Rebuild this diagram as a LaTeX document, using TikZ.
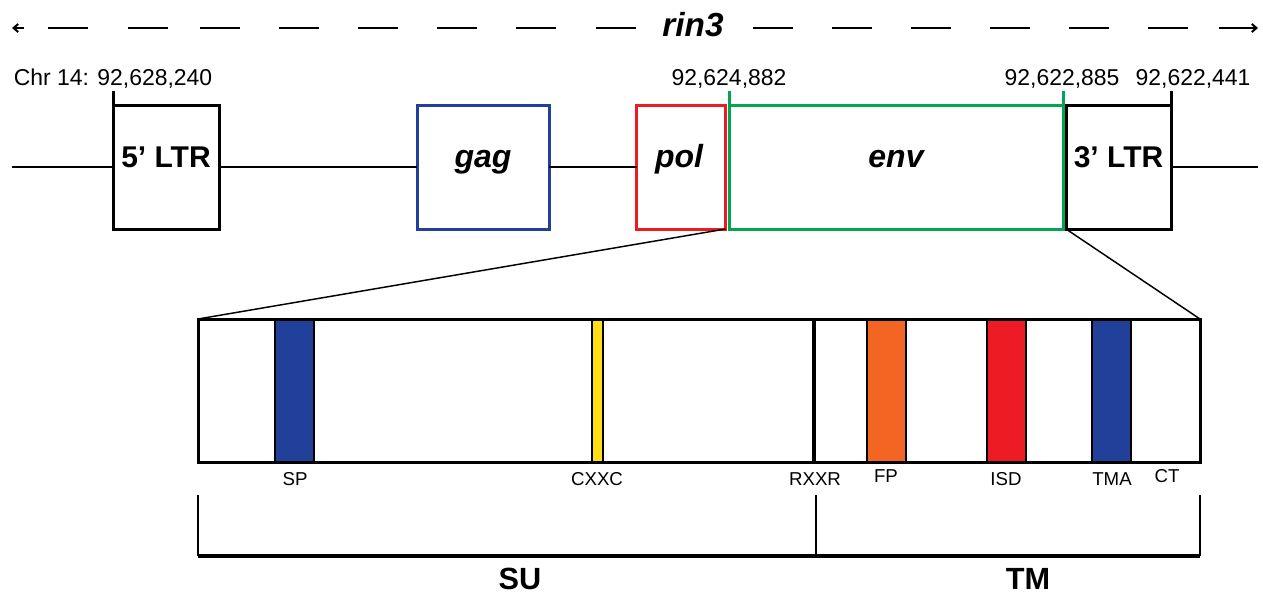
\documentclass[tikz,border=0pt]{standalone}
\usepackage{fontspec}
\setmainfont{Liberation Sans}
\usetikzlibrary{arrows.meta}
\definecolor{gblue}{HTML}{21409A}
\definecolor{gred}{HTML}{ED1C24}
\definecolor{ggreen}{HTML}{00A651}
\definecolor{gorange}{HTML}{F26522}
\definecolor{gyellow}{HTML}{FFDE17}
\tikzset{
  genebox/.style={draw, line width=2.25pt, fill=white, inner sep=0pt, outer sep=0pt, minimum height={124*0.75pt}, minimum width={#1*0.75pt}},
  boxlabel/.style={anchor=base, inner sep=0pt, font=\fontsize{22.5}{24}\selectfont\bfseries},
  itlabel/.style={anchor=base, inner sep=0pt, font=\fontsize{24}{26}\selectfont\bfseries\itshape},
  coordlabel/.style={anchor=base, inner sep=0pt, font=\fontsize{17.2}{19}\selectfont},
  domlabel/.style={anchor=base, inner sep=0pt, font=\fontsize{14}{16}\selectfont},
  domainbar/.style={draw=black, line width=0.8pt, inner sep=0pt, outer sep=0pt, minimum height={143*0.75pt}, minimum width={#1*0.75pt}},
  backbone/.style={line width=1.1pt},
  dashpiece/.style={line width=1.5pt},
  ticks/.style={line width=2.25pt},
}
\begin{document}
\begin{tikzpicture}[x=0.75pt,y=-0.75pt]
\useasboundingbox (0,0) rectangle (1263,594);
% top ruler
\node[inner sep=0pt, anchor=base, font=\fontsize{25}{27}\selectfont\bfseries\itshape] (rin) at (693,36) {rin3};
\coordinate (la1) at (24,28); \coordinate (la0) at (12,28);
\draw[dashpiece,-{Straight Barb[length=3.5pt,width=6pt]}] (la1) -- (la0);
\foreach \x in {48,128,200,279,358,437,516,596}{
  \draw[dashpiece] (\x,28) -- (\x+40,28);
}
\foreach \x in {753,832,911,990,1069,1148}{
  \draw[dashpiece] (\x,28) -- (\x+40,28);
}
\coordinate (ra0) at (1219,28); \coordinate (ra1) at (1258,28);
\draw[dashpiece,-{Straight Barb[length=3.5pt,width=6pt]}] (ra0) -- (ra1);
% genome
\coordinate (lstart) at (12,167);
\coordinate (lend) at (1258,167);
\node[genebox=106] (ltr5) at (166,167) {};
\node[genebox=132, draw=gblue] (gag) at (483,167) {};
\node[genebox=89, draw=gred] (pol) at (681,167) {};
\node[genebox=334, draw=ggreen] (env) at (896,167) {};
\node[genebox=105] (ltr3) at (1118.5,167) {};
\draw[backbone] (lstart) -- (ltr5.west);
\draw[backbone] (ltr5.east) -- (gag.west);
\draw[backbone] (gag.east) -- (pol.west);
\draw[backbone] (ltr3.east) -- (lend);
\node[boxlabel] (t5) at (166,167) {5’ LTR};
\node[itlabel] (tgag) at (483,167) {gag};
\node[itlabel] (tpol) at (679,167) {pol};
\node[itlabel] (tenv) at (896,167) {env};
\node[boxlabel] (t3) at (1118.5,167) {3’ LTR};
% ticks
\draw[ticks] (ltr5.north west) -- ++(0,-14) coordinate (k1);
\draw[ticks, draw=ggreen] (env.north west) -- ++(0,-14) coordinate (k2);
\draw[ticks, draw=ggreen] (env.north east) -- ++(0,-14) coordinate (k3);
\draw[ticks] (ltr3.north east) -- ++(0,-14) coordinate (k4);
\node[coordlabel] (c1) at (113,85) {Chr 14: 92,628,240};
\node[coordlabel] (c2) at (729,85) {92,624,882};
\node[coordlabel] (c3) at (1062,85) {92,622,885};
\node[coordlabel] (c4) at (1193,85) {92,622,441};
% expanded env
\node[draw, line width=2.25pt, fill=white, inner sep=0pt, outer sep=0pt, minimum width={1002*0.75pt}, minimum height={143*0.75pt}] (envbig) at (699,390.5) {};
\draw[line width=1.1pt] (pol.south east) -- (envbig.north west);
\draw[line width=1.1pt] (ltr3.south west) -- (envbig.north east);
\node[domainbar=39, fill=gblue] (sp) at (294.5,390.5) {};
\node[domainbar=11, fill=gyellow] (cxxc) at (597.5,390.5) {};
\node[domainbar=39, fill=gorange] (fp) at (886.5,390.5) {};
\node[domainbar=39, fill=gred] (isd) at (1006.5,390.5) {};
\node[domainbar=39, fill=gblue] (tma) at (1111.5,390.5) {};
\draw[line width=3pt] (envbig.north west) ++(616,0) coordinate (rx0) -- ++(0,143) coordinate (rx1);
\draw[line width=2.25pt] (envbig.north west) rectangle (envbig.south east);
\node[domlabel] (lsp) at (295,485) {SP};
\node[domlabel] (lcxxc) at (597,485) {CXXC};
\node[domlabel] (lrxxr) at (815,485) {RXXR};
\node[domlabel] (lfp) at (886,482) {FP};
\node[domlabel] (lisd) at (1006,485) {ISD};
\node[domlabel] (ltma) at (1112,485) {TMA};
\node[domlabel] (lct) at (1167,482) {CT};
% bracket
\coordinate (b1t) at (198,495); \coordinate (b1b) at (198,556);
\coordinate (b2t) at (816,495); \coordinate (b2b) at (816,556);
\coordinate (b3t) at (1200,495); \coordinate (b3b) at (1200,556);
\draw[line width=1.7pt] (b1t) -- (b1b);
\draw[line width=1.7pt] (b2t) -- (b2b);
\draw[line width=1.7pt] (b3t) -- (b3b);
\draw[line width=2.4pt] (b1b) -- (b3b);
\node[anchor=base, inner sep=0pt, font=\fontsize{23}{26}\selectfont\bfseries] (su) at (520,589) {SU};
\node[anchor=base, inner sep=0pt, font=\fontsize{23}{26}\selectfont\bfseries] (tm) at (1028,589) {TM};
\end{tikzpicture}
\end{document}
